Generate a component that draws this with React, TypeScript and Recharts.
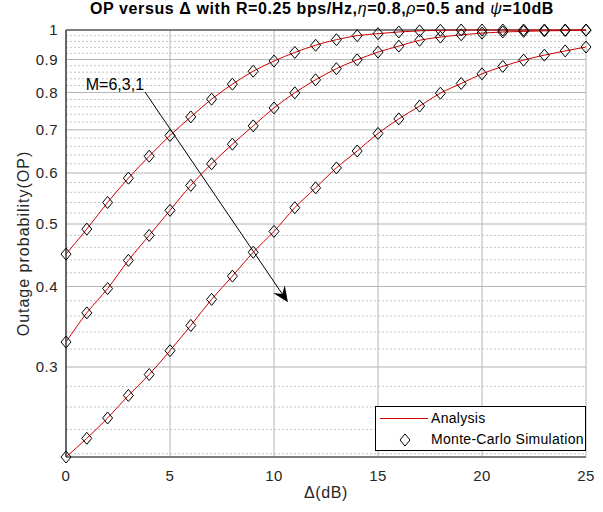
import React from 'react';
import { ComposedChart, Line, XAxis, YAxis, CartesianGrid, ReferenceLine, Legend } from 'recharts';

// ---- data ----
const deltaDb = [0, 1, 2, 3, 4, 5, 6, 7, 8, 9, 10, 11, 12, 13, 14, 15, 16, 17, 18, 19, 20, 21, 22, 23, 24, 25];
const opM6 = [0.449, 0.491, 0.540, 0.589, 0.637, 0.686, 0.733, 0.781, 0.824, 0.863, 0.895, 0.923, 0.947, 0.966, 0.980, 0.987, 0.993, 0.997, 0.999, 1.0, 1.0, 1.0, 1.0, 1.0, 1.0, 1.0];
const opM3 = [0.328, 0.364, 0.397, 0.439, 0.480, 0.525, 0.574, 0.620, 0.665, 0.710, 0.757, 0.799, 0.837, 0.871, 0.899, 0.924, 0.944, 0.964, 0.975, 0.983, 0.989, 0.993, 0.995, 0.997, 0.998, 0.999];
const opM1 = [0.2175, 0.2325, 0.250, 0.271, 0.292, 0.318, 0.348, 0.382, 0.415, 0.452, 0.487, 0.530, 0.569, 0.611, 0.649, 0.691, 0.728, 0.762, 0.798, 0.826, 0.855, 0.878, 0.898, 0.914, 0.928, 0.941];

const xTicks = [0, 5, 10, 15, 20, 25];
const yMajorTicks = [0.3, 0.4, 0.5, 0.6, 0.7, 0.8, 0.9, 1];
const yMinorTicks = [0.22, 0.24, 0.26, 0.28, 0.32, 0.34, 0.36, 0.38, 0.42, 0.44, 0.46, 0.48, 0.52, 0.54, 0.56, 0.58, 0.62, 0.64, 0.66, 0.68, 0.72, 0.74, 0.76, 0.78, 0.82, 0.84, 0.86, 0.88, 0.92, 0.94, 0.96, 0.98];
const yAllTicks = [...yMinorTicks, ...yMajorTicks].sort((a, b) => a - b);
const xDomain = [0, 25];
const yDomain = [0.2175, 1];

const arrowFrom = { x: 3.8, y: 0.801 };
const arrowTo = { x: 10.67, y: 0.378 };
const arrowText = 'M=6,3,1';

const xLabel = 'Δ(dB)';
const yLabel = 'Outage probability(OP)';
const legendLine = 'Analysis';
const legendMarker = 'Monte-Carlo Simulation';

const data = deltaDb.map((x, i) => ({ x, m6: opM6[i], m3: opM3[i], m1: opM1[i] }));

const FONT = '"Liberation Sans", Arial, Helvetica, sans-serif';
const RED = '#d40000';
const TXT = '#262626';

const Diamond = (props: any) => {
  const { cx, cy, index, dataKey } = props;
  if (cx == null || cy == null) return <g key={`${dataKey}-${index}`} />;
  return (
    <path
      key={`${dataKey}-${index}`}
      d={`M${cx},${cy - 6}L${cx + 5},${cy}L${cx},${cy + 6}L${cx - 5},${cy}Z`}
      fill="none"
      stroke="#000"
      strokeWidth={1}
    />
  );
};

const ArrowShape = (p: any) => {
  const { x1, y1, x2, y2 } = p;
  const ang = Math.atan2(y2 - y1, x2 - x1);
  const L = 16;
  const W = 7;
  const N = 10;
  const c = Math.cos(ang);
  const s = Math.sin(ang);
  const bx = x2 - L * c;
  const by = y2 - L * s;
  const nx = x2 - N * c;
  const ny = y2 - N * s;
  const px = -s;
  const py = c;
  return (
    <g>
      <line x1={x1} y1={y1} x2={nx} y2={ny} stroke="#000" strokeWidth={1} />
      <polygon
        points={`${x2},${y2} ${bx + px * W},${by + py * W} ${nx},${ny} ${bx - px * W},${by - py * W}`}
        fill="#000"
      />
      <text
        x={x1 - 1}
        y={y1 - 8}
        textAnchor="end"
        dominantBaseline="central"
        fontSize={16}
        fontFamily={FONT}
        fill="#000"
      >
        {arrowText}
      </text>
    </g>
  );
};

const TitleLabel = (props: any) => {
  const vb = props.viewBox || { x: 66, y: 30, width: 520 };
  const greek = { fontStyle: 'italic', fontWeight: 'normal' } as any;
  return (
    <text
      x={vb.x + 24}
      y={vb.y - 16}
      textAnchor="start"
      fontSize={16}
      fontWeight="bold"
      fontFamily={FONT}
      letterSpacing={0.6}
      fill="#000"
    >
      OP versus Δ with R=0.25 bps/Hz,<tspan {...greek}>η</tspan>=0.8,<tspan {...greek}>ρ</tspan>=0.5 and{' '}
      <tspan {...greek}>ψ</tspan>=10dB
    </text>
  );
};

const XLabel = (props: any) => {
  const vb = props.viewBox;
  return (
    <text
      x={vb.x + vb.width / 2}
      y={vb.y + 35}
      textAnchor="middle"
      dominantBaseline="central"
      fontSize={16}
      letterSpacing={0.6}
      fontFamily={FONT}
      fill={TXT}
    >
      {xLabel}
    </text>
  );
};

const YLabel = (props: any) => {
  const vb = props.viewBox;
  const x = vb.x + 23;
  const y = vb.y + vb.height / 2;
  return (
    <text
      x={x}
      y={y}
      transform={`rotate(-90 ${x} ${y})`}
      textAnchor="middle"
      dominantBaseline="central"
      fontSize={16}
      letterSpacing={1}
      fontFamily={FONT}
      fill={TXT}
    >
      {yLabel}
    </text>
  );
};

const LegendBox = () => (
  <div
    style={{
      width: 211,
      height: 45,
      boxSizing: 'border-box',
      border: '1px solid #000',
      background: '#fff',
      position: 'relative',
      fontFamily: FONT,
      fontSize: 14,
      letterSpacing: 0.3,
      color: '#000',
    }}
  >
    <svg width={60} height={43} style={{ position: 'absolute', left: 0, top: 0 }}>
      <line x1={4} y1={11.5} x2={52} y2={11.5} stroke={RED} strokeWidth={1} />
      <path d="M29,27L34,33L29,39L24,33Z" fill="none" stroke="#000" strokeWidth={1} />
    </svg>
    <div style={{ position: 'absolute', left: 55, top: 3, lineHeight: '17px' }}>{legendLine}</div>
    <div style={{ position: 'absolute', left: 55, top: 24, lineHeight: '17px' }}>{legendMarker}</div>
  </div>
);

export default function App() {
  const tickStyle = { fontSize: 15, fill: TXT, fontFamily: FONT, letterSpacing: 0.5 };
  return (
    <div style={{ position: 'absolute', left: 0, top: 0, width: 603, height: 512, background: '#fff' }}>
      <ComposedChart width={603} height={512} data={data} margin={{ top: 30, right: 17, bottom: 0, left: 0 }}>
        <CartesianGrid stroke="#b4b4b4" strokeWidth={1} />
        {yMinorTicks.map((v) => (
          <ReferenceLine key={`minor-${v}`} y={v} stroke="#c4c4c4" strokeDasharray="2 2" strokeWidth={1} />
        ))}
        <XAxis
          dataKey="x"
          type="number"
          domain={xDomain}
          ticks={xTicks}
          height={55}
          tickLine={false}
          tickMargin={7}
          tick={tickStyle}
          axisLine={{ stroke: TXT, strokeWidth: 1 }}
          label={<XLabel />}
        />
        <XAxis
          xAxisId="bottomInner"
          dataKey="x"
          type="number"
          domain={xDomain}
          ticks={xTicks}
          orientation="bottom"
          mirror
          height={0}
          tick={false}
          tickSize={5}
          tickLine={{ stroke: TXT }}
          axisLine={false}
        />
        <XAxis
          xAxisId="topInner"
          dataKey="x"
          type="number"
          domain={xDomain}
          ticks={xTicks}
          orientation="top"
          mirror
          height={0}
          tick={false}
          tickSize={5}
          tickLine={{ stroke: TXT }}
          axisLine={{ stroke: TXT, strokeWidth: 1 }}
        />
        <YAxis
          type="number"
          scale="log"
          domain={yDomain}
          ticks={yMajorTicks}
          width={66}
          tickLine={false}
          tick={tickStyle}
          tickFormatter={(v: number) => String(v)}
          axisLine={{ stroke: '#404040', strokeWidth: 1.5 }}
          label={<YLabel />}
        />
        <YAxis
          yAxisId="leftInner"
          type="number"
          scale="log"
          domain={yDomain}
          ticks={yAllTicks}
          orientation="left"
          mirror
          width={0}
          tick={false}
          tickSize={3}
          tickLine={{ stroke: '#404040' }}
          axisLine={false}
        />
        <YAxis
          yAxisId="rightInner"
          type="number"
          scale="log"
          domain={yDomain}
          ticks={yAllTicks}
          orientation="right"
          mirror
          width={0}
          tick={false}
          tickSize={3}
          tickLine={{ stroke: TXT }}
          axisLine={{ stroke: TXT, strokeWidth: 1 }}
        />
        <ReferenceLine y={1} stroke={TXT} strokeWidth={1} label={<TitleLabel />} />
        <ReferenceLine segment={[arrowFrom, arrowTo]} shape={ArrowShape} />
        <Line dataKey="m6" type="monotone" stroke={RED} strokeWidth={1} dot={Diamond} activeDot={false} isAnimationActive={false} />
        <Line dataKey="m3" type="monotone" stroke={RED} strokeWidth={1} dot={Diamond} activeDot={false} isAnimationActive={false} />
        <Line dataKey="m1" type="monotone" stroke={RED} strokeWidth={1} dot={Diamond} activeDot={false} isAnimationActive={false} />
        <Legend
          layout="horizontal"
          verticalAlign="middle"
          align="center"
          content={<LegendBox />}
          wrapperStyle={{ position: 'absolute', left: 375, top: 406, width: 211, height: 45 }}
        />
      </ComposedChart>
    </div>
  );
}
